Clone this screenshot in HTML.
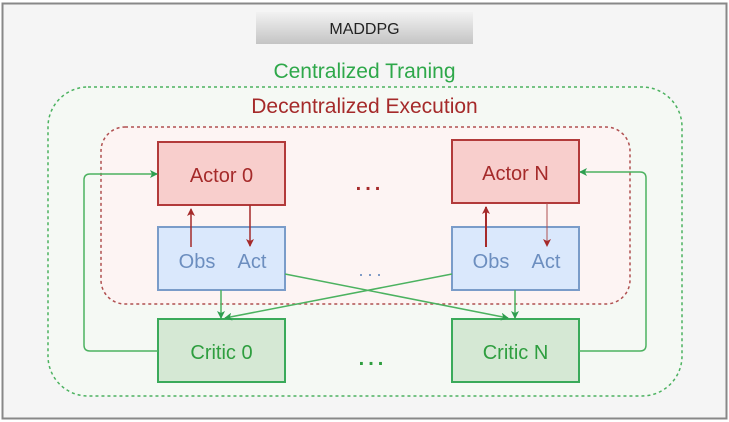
<!DOCTYPE html>
<html><head><style>
body{margin:0;width:729px;height:422px;background:#fff;overflow:hidden}
svg{display:block}
text{font-family:"Liberation Sans",sans-serif}
</style></head><body>
<svg width="729" height="422" viewBox="0 0 729 422">
<defs>
<linearGradient id="g" x1="0" y1="0" x2="0" y2="1"><stop offset="0" stop-color="#f2f2f2"/><stop offset="1" stop-color="#c4c4c4"/></linearGradient>
<marker id="ag" markerWidth="8" markerHeight="8" refX="7" refY="4" orient="auto" markerUnits="userSpaceOnUse"><path d="M0,0 L8,4 L0,8 L2,4 z" fill="#2e9e4f"/></marker>
<marker id="ar" markerWidth="8" markerHeight="8" refX="7" refY="4" orient="auto" markerUnits="userSpaceOnUse"><path d="M0,0 L8,4 L0,8 L2,4 z" fill="#a52a2a"/></marker>
</defs>
<rect x="2.5" y="3.5" width="724" height="415" fill="#f5f5f5" stroke="#888" stroke-width="2"/>
<rect x="256" y="12" width="217" height="32" fill="url(#g)"/>
<text x="364.5" y="34" font-size="16" text-anchor="middle" fill="#222">MADDPG</text>
<text x="364.5" y="78" font-size="21" text-anchor="middle" fill="#2ea84a">Centralized Traning</text>
<rect x="48" y="87" width="634" height="309" rx="40" fill="#f5f9f4" stroke="#4cb260" stroke-width="1.5" stroke-dasharray="3,3"/>
<text x="364.5" y="113" font-size="21" text-anchor="middle" fill="#a52a2a">Decentralized Execution</text>
<rect x="101" y="127" width="529" height="177" rx="24" fill="#fdf4f3" stroke="#b05050" stroke-width="1.5" stroke-dasharray="3,3"/>
<rect x="158" y="142" width="127" height="63" fill="#f8cecc" stroke="#b23a3a" stroke-width="2"/>
<text x="221.5" y="182" font-size="20" text-anchor="middle" fill="#a52a2a">Actor 0</text>
<rect x="452" y="140" width="127" height="63" fill="#f8cecc" stroke="#b23a3a" stroke-width="2"/>
<text x="515.5" y="180" font-size="20" text-anchor="middle" fill="#a52a2a">Actor N</text>
<rect x="158" y="227" width="127" height="63" fill="#dae8fc" stroke="#7a9cc9" stroke-width="2"/>
<text x="197" y="268" font-size="20" text-anchor="middle" fill="#6c8ebf">Obs</text>
<text x="252" y="268" font-size="20" text-anchor="middle" fill="#6c8ebf">Act</text>
<rect x="452" y="227" width="127" height="63" fill="#dae8fc" stroke="#7a9cc9" stroke-width="2"/>
<text x="491" y="268" font-size="20" text-anchor="middle" fill="#6c8ebf">Obs</text>
<text x="546" y="268" font-size="20" text-anchor="middle" fill="#6c8ebf">Act</text>
<rect x="158" y="319" width="127" height="63" fill="#d5e8d4" stroke="#3aaa5a" stroke-width="2"/>
<text x="221.5" y="359" font-size="20" text-anchor="middle" fill="#2e9e3f">Critic 0</text>
<rect x="452" y="319" width="127" height="63" fill="#d5e8d4" stroke="#3aaa5a" stroke-width="2"/>
<text x="515.5" y="359" font-size="20" text-anchor="middle" fill="#2e9e3f">Critic N</text>
<text x="370" y="190" font-size="20" text-anchor="middle" letter-spacing="4" fill="#a52a2a" font-weight="bold">...</text>
<text x="372" y="276" font-size="18" text-anchor="middle" letter-spacing="4" fill="#6c8ebf">...</text>
<text x="373" y="365" font-size="20" text-anchor="middle" letter-spacing="4" fill="#2e9e3f" font-weight="bold">...</text>
<line x1="191" y1="247" x2="191" y2="209" stroke="#a52a2a" stroke-width="1.5" marker-end="url(#ar)"/>
<line x1="250" y1="205" x2="250" y2="246" stroke="#a52a2a" stroke-width="1.5" marker-end="url(#ar)"/>
<line x1="486" y1="247" x2="486" y2="207" stroke="#a52a2a" stroke-width="2" marker-end="url(#ar)"/>
<line x1="547" y1="203" x2="547" y2="246" stroke="#b05050" stroke-width="1" marker-end="url(#ar)"/>
<g fill="none" stroke="#4cb260" stroke-width="1.5">
<line x1="221" y1="290" x2="221" y2="318" marker-end="url(#ag)"/>
<line x1="515" y1="290" x2="515" y2="318" marker-end="url(#ag)"/>
<line x1="285" y1="274" x2="508" y2="318" marker-end="url(#ag)"/>
<line x1="452" y1="274" x2="225" y2="318" marker-end="url(#ag)"/>
<path d="M158,351 H90 Q84,351 84,345 V180 Q84,174 90,174 H157" marker-end="url(#ag)"/>
<path d="M579,351 H640 Q646,351 646,345 V178 Q646,172 640,172 H580" marker-end="url(#ag)"/>
</g>
</svg>
</body></html>
